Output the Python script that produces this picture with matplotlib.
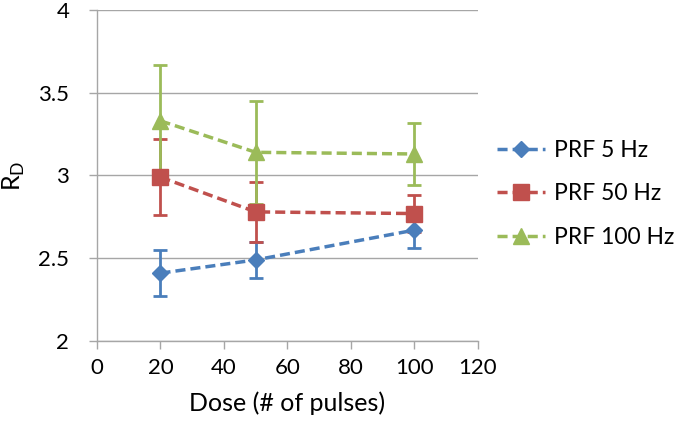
import matplotlib
matplotlib.use("Agg")
import matplotlib.pyplot as plt

plt.rcParams["font.family"] = ["Lato", "DejaVu Sans"]

# data
dose = [20, 50, 100]
prf5 = [2.41, 2.49, 2.67]
prf5_err = [0.14, 0.11, 0.11]
prf50 = [2.99, 2.78, 2.77]
prf50_err = [0.23, 0.18, 0.11]
prf100 = [3.33, 3.14, 3.13]
prf100_err = [0.34, 0.31, 0.19]

labels = ["PRF 5 Hz", "PRF 50 Hz", "PRF 100 Hz"]
colors = ["#4A7EBB", "#C0504D", "#9BBB59"]
markers = ["D", "s", "^"]
msizes = [8, 11, 11]

fig = plt.figure(figsize=(6.75, 4.34), dpi=100)
ax = fig.add_axes([0.1437, 0.2143, 0.5644, 0.7627])

series = [(prf5, prf5_err), (prf50, prf50_err), (prf100, prf100_err)]
handles = []
for (vals, err), lab, c, m, ms in zip(series, labels, colors, markers, msizes):
    ax.errorbar(dose, vals, yerr=err, fmt="none", ecolor=c, elinewidth=2,
                capsize=5, capthick=2, zorder=2)
    h, = ax.plot(dose, vals, linestyle=(0, (2.9, 1.45)), linewidth=2.5, color=c,
                 marker=m, markersize=ms, markeredgecolor=c, label=lab, zorder=3)
    handles.append(h)

ax.set_xlim(0, 120)
ax.set_ylim(2, 4)
ax.set_xticks(range(0, 121, 20))
ax.set_yticks([2, 2.5, 3, 3.5, 4])
ax.set_yticklabels(["2", "2.5", "3", "3.5", "4"])
ax.yaxis.grid(True, color="#A6A6A6", linewidth=1)
ax.set_axisbelow(True)
for s in ["top", "right"]:
    ax.spines[s].set_visible(False)
for s in ["left", "bottom"]:
    ax.spines[s].set_color("#A6A6A6")
    ax.spines[s].set_linewidth(1)
ax.tick_params(axis="both", colors="#A6A6A6", labelcolor="black", labelsize=16,
               length=6, width=1)
ax.tick_params(axis="y", pad=14)
ax.tick_params(axis="x", pad=6)

ax.set_xlabel("Dose (# of pulses)", fontsize=18, labelpad=10)
ax.set_ylabel("R$_\\mathregular{D}$", fontsize=18, labelpad=8)

fig.legend(handles=handles, labels=labels, loc="center left",
           bbox_to_anchor=(0.736, 0.553), frameon=False, fontsize=16.5,
           handlelength=2.1, handletextpad=0.4, labelspacing=1.0,
           borderaxespad=0, borderpad=0)

fig.savefig("out.png", dpi=100)
